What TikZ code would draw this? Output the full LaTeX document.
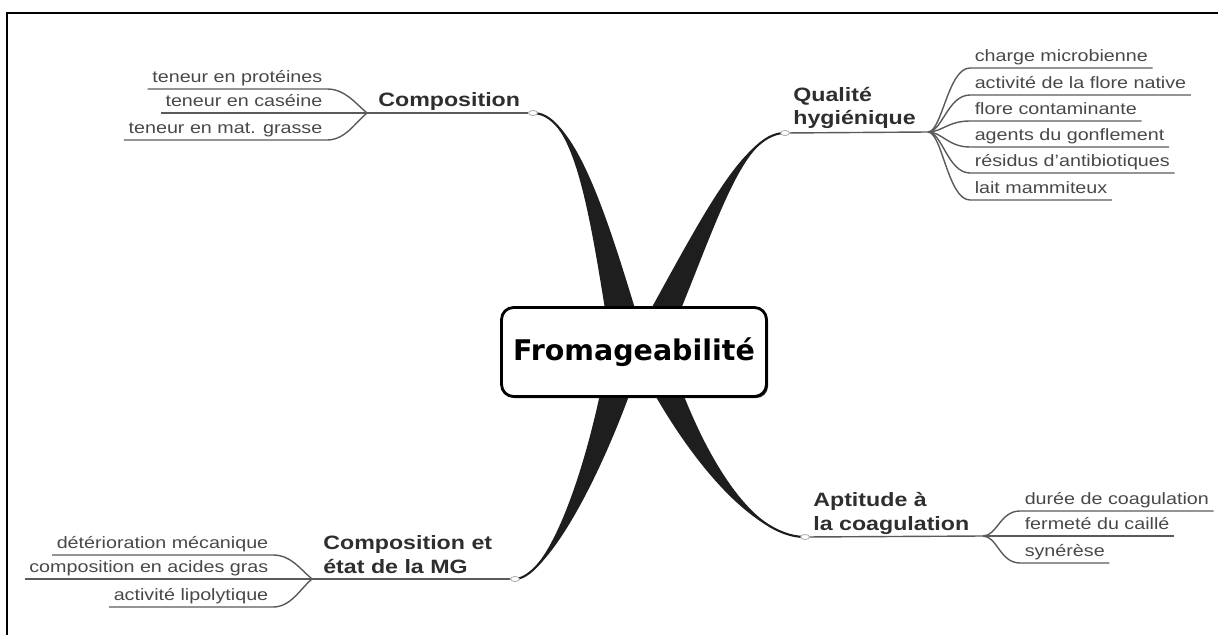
\documentclass[tikz,border=0pt]{standalone}
\usepackage{fontspec}
\setmainfont{Liberation Sans}[FakeStretch=1.2]
\newfontfamily\hubfont{DejaVu Sans}
\usetikzlibrary{shapes.geometric,calc,shadows,backgrounds}

\definecolor{inkdark}{HTML}{1E1E1E}
\definecolor{branchgray}{HTML}{5A5A5A}
\definecolor{labelgray}{HTML}{2E2E2E}
\definecolor{leafgray}{HTML}{484848}

\newcommand{\spoke}[4]{%
  \coordinate (sl) at ($(#1)+(-18,0)$);
  \coordinate (sr) at ($(#1)+(18,0)$);
  \coordinate (cl) at ($(#2)+(-10,0)$);
  \coordinate (cr) at ($(#2)+(10,0)$);
  \fill[inkdark] (sl) .. controls (cl) and (#3) .. (#4.center)
    .. controls (#3) and (cr) .. (sr) -- cycle;
  \draw[spokeline] (#1) .. controls (#2) and (#3) .. (#4.center);}

\begin{document}
\begin{tikzpicture}[x=0.02cm,y=-0.02cm,
    hub/.style={draw=black, line width=1.6pt, rounded corners=0.24cm, fill=white,
      minimum width=5.3cm, minimum height=1.78cm,
      font=\hubfont\bfseries\fontsize{16.2}{19}\selectfont,
      drop shadow={shadow xshift=0.9pt, shadow yshift=-0.9pt, fill=black!80, opacity=1}},
    topic/.style={font=\bfseries\fontsize{11}{13.3}\selectfont, text=labelgray,
      align=left, inner sep=0pt, anchor=base west},
    leaf/.style={font=\fontsize{9.35}{11.2}\selectfont, text=leafgray,
      inner xsep=2.5pt, inner ysep=1.2pt, text height=7pt, text depth=2.2pt},
    knot/.style={ellipse, draw=branchgray!60, fill=white, line width=0.4pt,
      minimum width=0.18cm, minimum height=0.1cm, inner sep=0pt},
    twig/.style={draw=branchgray, line width=0.8pt},
    spokeline/.style={draw=inkdark, line width=1.2pt},
    frame/.style={draw=black, line width=1.4pt}]
    \useasboundingbox (0,0) rectangle (1218,635);
    \draw[frame] (7,635) -- (7,13) -- (1218,13);

    \node[hub] (fromage) at (634,352) {Fromageabilité};

    \node[topic] (compo) at (378,107) {Composition};
    \node[knot] (compoknot) at (533,113) {};
    \coordinate (compojoin) at (367,113);
    \node[leaf, anchor=south east] (prot) at (327,89) {teneur en protéines};
    \node[leaf, anchor=south east] (cas) at (327,113) {teneur en caséine};
    \node[leaf, anchor=south east] (grasse) at (327,140) {teneur en mat. grasse};

    \node[topic] (hyg) at (793,125) {Qualité\\hygiénique};
    \node[knot] (hygknot) at (785,133) {};
    \coordinate (hygjoin) at (928,132);
    \node[leaf, anchor=south west] (microb) at (970,68) {charge microbienne};
    \node[leaf, anchor=south west] (native) at (970,95) {activité de la flore native};
    \node[leaf, anchor=south west] (contam) at (970,121) {flore contaminante};
    \node[leaf, anchor=south west] (gonfl) at (970,147) {agents du gonflement};
    \node[leaf, anchor=south west] (antib) at (970,173) {résidus d'antibiotiques};
    \node[leaf, anchor=south west] (mammit) at (970,200) {lait mammiteux};

    \node[topic] (coag) at (813,530) {Aptitude à\\la coagulation};
    \node[knot] (coagknot) at (805,537) {};
    \coordinate (coagjoin) at (983,536);
    \node[leaf, anchor=south west] (duree) at (1020,511) {durée de coagulation};
    \node[leaf, anchor=south west] (ferme) at (1020,536) {fermeté du caillé};
    \node[leaf, anchor=south west] (syner) at (1020,563) {synérèse};

    \node[topic] (fat) at (323,573) {Composition et\\état de la MG};
    \node[knot] (fatknot) at (515,579) {};
    \coordinate (fatjoin) at (312,579);
    \node[leaf, anchor=south east] (deter) at (273,555) {détérioration mécanique};
    \node[leaf, anchor=south east] (acides) at (273,579) {composition en acides gras};
    \node[leaf, anchor=south east] (lipo) at (273,607) {activité lipolytique};

    \begin{scope}[on background layer]
        \coordinate (s1) at ($(fromage.center)+(-4,0)$);
        \coordinate (s2) at ($(fromage.center)+(11,0)$);
        \coordinate (s3) at ($(fromage.center)+(16,0)$);
        \coordinate (s4) at ($(fromage.center)+(-8,0)$);
        \spoke{s1}{602,232}{578,113}{compoknot}
        \spoke{s2}{705,232}{740,133}{hygknot}
        \spoke{s3}{690,450}{750,537}{coagknot}
        \spoke{s4}{600,460}{550,578}{fatknot}

        \draw[twig] (compoknot) -- (compojoin);
        \draw[twig] (prot.south west) -- (prot.south east) .. controls +(18,0) and +(-12,-10) .. (compojoin);
        \draw[twig] (cas.south west) -- (compojoin);
        \draw[twig] (grasse.south west) -- (grasse.south east) .. controls +(18,0) and +(-12,10) .. (compojoin);

        \draw[twig] (hygknot) -- (hygjoin);
        \foreach \leafname in {microb,native,contam,gonfl,antib,mammit}
            \draw[twig] (hygjoin) .. controls +(14,0) and +(-22,0) .. (\leafname.south west) -- (\leafname.south east);

        \draw[twig] (coagknot) -- (coagjoin);
        \foreach \leafname in {duree,ferme,syner}
            \draw[twig] (coagjoin) .. controls +(14,0) and +(-20,0) .. (\leafname.south west) -- (\leafname.south east);

        \draw[twig] (fatknot) -- (fatjoin);
        \draw[twig] (deter.south west) -- (deter.south east) .. controls +(18,0) and +(-12,-10) .. (fatjoin);
        \draw[twig] (acides.south west) -- (fatjoin);
        \draw[twig] (lipo.south west) -- (lipo.south east) .. controls +(18,0) and +(-12,10) .. (fatjoin);
    \end{scope}
\end{tikzpicture}
\end{document}
